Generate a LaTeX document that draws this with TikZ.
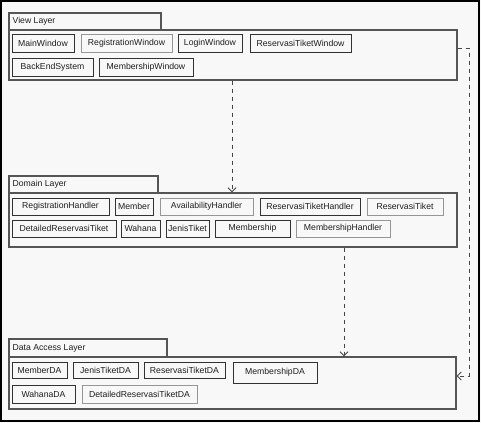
\documentclass[tikz,border=0pt]{standalone}
\usepackage{fontspec}
\setmainfont{Liberation Sans}
\usepackage{tikz}
\usetikzlibrary{arrows.meta,fit}
\definecolor{pkgLine}{RGB}{85,85,85}
\definecolor{clsDark}{RGB}{50,50,50}
\definecolor{clsLight}{RGB}{150,150,150}
\definecolor{paperGray}{RGB}{248,248,248}
\definecolor{depGray}{RGB}{70,70,70}
\definecolor{textGray}{RGB}{30,30,30}

\tikzset{
  pkgtab/.style={draw=pkgLine, line width=0.9pt, inner sep=0pt},
  pkgbody/.style={draw=pkgLine, line width=1pt, inner sep=0pt},
  pkgname/.style={anchor=west, inner sep=3pt, text=textGray, font=\fontsize{6.5}{7}\selectfont},
  clsname/.style={inner sep=0pt, text=textGray, font=\fontsize{6.5}{7}\selectfont},
  cls/.style={draw=clsDark, line width=0.7pt, inner sep=0pt},
  clslight/.style={cls, draw=clsLight},
  dep/.style={draw=depGray, line width=0.7pt, dash pattern=on 3.5pt off 2.5pt,
    -{Straight Barb[length=3pt,width=6pt]}}
}

\begin{document}
\begin{tikzpicture}[x=0.75pt,y=-0.75pt]
\useasboundingbox (0,0) rectangle (481,423);
\fill[paperGray] (0,0) rectangle (481,423);
\draw[black, line width=0.8pt] (1,1) rectangle (479,421);

% view layer
\node[pkgtab, fit={(9,13) (161,30)}, label={[pkgname]west:View Layer}] (viewtab) {};
\node[pkgbody, fit={(9,30) (457,80)}] (viewbody) {};
\node[cls, fit={(12,34) (74,52)}, label={[clsname]center:MainWindow}] (mainwin) {};
\node[clslight, fit={(81,34) (172,52)}, label={[clsname]center:RegistrationWindow}] (regwin) {};
\node[cls, fit={(178,34) (242,52)}, label={[clsname]center:LoginWindow}] (loginwin) {};
\node[cls, fit={(250,34) (351,52)}, label={[clsname]center:ReservasiTiketWindow}] (reswin) {};
\node[cls, fit={(12,58) (93,76)}, label={[clsname]center:BackEndSystem}] (backend) {};
\node[cls, fit={(99,58) (193,76)}, label={[clsname]center:MembershipWindow}] (memwin) {};

% domain layer
\node[pkgtab, fit={(9,176) (158,193)}, label={[pkgname]west:Domain Layer}] (domtab) {};
\node[pkgbody, fit={(9,193) (457,247)}] (dombody) {};
\node[cls, fit={(12,198) (109,215)}, label={[clsname]center:RegistrationHandler}] (reghandler) {};
\node[cls, fit={(115,198) (153,215)}, label={[clsname]center:Member}] (member) {};
\node[clslight, fit={(160,198) (253,215)}, label={[clsname]center:AvailabilityHandler}] (availhandler) {};
\node[cls, fit={(260,198) (360,215)}, label={[clsname]center:ReservasiTiketHandler}] (reshandler) {};
\node[clslight, fit={(367,198) (443,215)}, label={[clsname]center:ReservasiTiket}] (restiket) {};
\node[cls, fit={(12,220) (116,237)}, label={[clsname]center:DetailedReservasiTiket}] (detailres) {};
\node[cls, fit={(121,220) (160,237)}, label={[clsname]center:Wahana}] (wahana) {};
\node[cls, fit={(166,220) (209,237)}, label={[clsname]center:JenisTiket}] (jenistiket) {};
\node[cls, fit={(215,220) (290,237)}, label={[clsname]center:Membership}] (membership) {};
\node[clslight, fit={(296,220) (390,237)}, label={[clsname]center:MembershipHandler}] (memhandler) {};

% data access layer
\node[pkgtab, fit={(9,339) (167,357)}, label={[pkgname]west:Data Access Layer}] (datab) {};
\node[pkgbody, fit={(9,357) (456,409)}] (dabody) {};
\node[cls, fit={(12,362) (67,378)}, label={[clsname]center:MemberDA}] (memberda) {};
\node[cls, fit={(73,362) (138,378)}, label={[clsname]center:JenisTiketDA}] (jenisda) {};
\node[cls, fit={(144,362) (225,378)}, label={[clsname]center:ReservasiTiketDA}] (resda) {};
\node[cls, fit={(233,362) (317,383)}, label={[clsname]center:MembershipDA}] (membershipda) {};
\node[cls, fit={(12,385) (75,403)}, label={[clsname]center:WahanaDA}] (wahanada) {};
\node[clslight, fit={(82,385) (197,403)}, label={[clsname]center:DetailedReservasiTiketDA}] (detailda) {};

% dependencies
\coordinate (viewdown) at (232,0);
\coordinate (domdown) at (344,0);
\coordinate (bend) at (469,0);
\coordinate (vout) at ([yshift=5.25pt]viewbody.east);
\coordinate (dain) at ([yshift=5.25pt]dabody.east);
\draw[dep] (viewbody.south -| viewdown) -- (dombody.north -| viewdown);
\draw[dep] (dombody.south -| domdown) -- (dabody.north -| domdown);
\draw[dep] (vout) -- (vout -| bend) -- (dain -| bend) -- (dain);
\end{tikzpicture}
\end{document}
